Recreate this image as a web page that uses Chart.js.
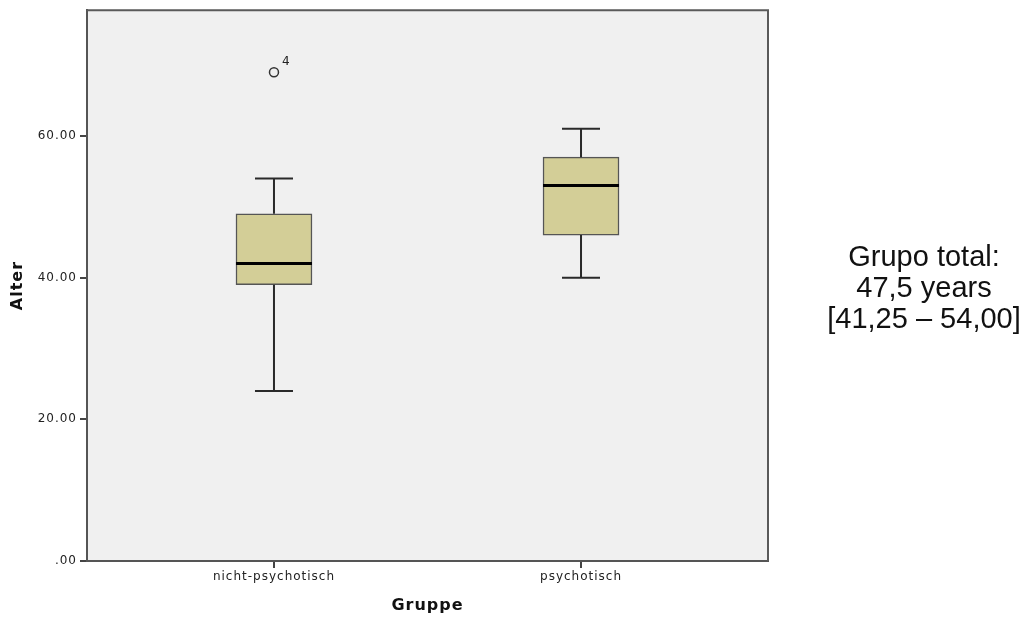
<!DOCTYPE html>
<html>
<head>
<meta charset="utf-8">
<script src="https://cdn.jsdelivr.net/npm/chart.js@4/dist/chart.umd.min.js"></script>
<style>
  html, body { margin: 0; padding: 0; background: #ffffff; }
  #wrap { position: relative; width: 1027px; height: 619px; }
  #c { position: absolute; left: 0; top: 0; }
  #note {
    position: absolute; left: 774px; top: 241px; width: 300px;
    text-align: center; font-family: "Liberation Sans", Arial, sans-serif;
    font-size: 29px; line-height: 31px; color: #111111;
  }
</style>
</head>
<body>
<div id="wrap">
  <canvas id="c" width="1027" height="619"></canvas>
  <div id="note">Grupo total:<br>47,5 years<br>[41,25 – 54,00]</div>
</div>
<script>
// Age by group (box plot summary per group)
const categories = ['nicht-psychotisch', 'psychotisch'];
const whiskerLow = [24, 40];
const q1 = [39, 46];
const median = [42, 53];
const q3 = [49, 57];
const whiskerHigh = [54, 61];

// Outliers: group index, value, case label
const outlierGroup = [0];
const outlierValue = [69];
const outlierLabel = ['4'];

const yTickValues = [0, 20, 40, 60];
const yTickLabels = ['.00', '20.00', '40.00', '60.00'];

const boxData = categories.map((c, i) => ({ x: i + 1, y: [q1[i], q3[i]] }));
const outlierData = outlierGroup.map((g, i) => ({ x: g + 1, y: outlierValue[i] }));

const TICK_FONT = { family: 'DejaVu Sans', size: 12 };
const TITLE_FONT = { family: 'DejaVu Sans', size: 16, weight: 'bold' };

const boxPlotPlugin = {
  id: 'boxPlotPlugin',
  beforeDraw(chart) {
    const { ctx, chartArea: a } = chart;
    ctx.letterSpacing = '1px';
    ctx.save();
    ctx.fillStyle = '#f0f0f0';
    ctx.fillRect(a.left, a.top, a.right - a.left, a.bottom - a.top);
    ctx.restore();
  },
  afterDatasetsDraw(chart) {
    const { ctx, scales: { x, y } } = chart;
    const capHalf = 19, boxHalf = 38;
    ctx.save();
    categories.forEach((c, i) => {
      const cx = x.getPixelForValue(i + 1);
      // whiskers
      ctx.strokeStyle = '#2a2a2a';
      ctx.lineWidth = 2;
      ctx.beginPath();
      ctx.moveTo(cx, y.getPixelForValue(q3[i]));
      ctx.lineTo(cx, y.getPixelForValue(whiskerHigh[i]));
      ctx.moveTo(cx - capHalf, y.getPixelForValue(whiskerHigh[i]));
      ctx.lineTo(cx + capHalf, y.getPixelForValue(whiskerHigh[i]));
      ctx.moveTo(cx, y.getPixelForValue(q1[i]));
      ctx.lineTo(cx, y.getPixelForValue(whiskerLow[i]));
      ctx.moveTo(cx - capHalf, y.getPixelForValue(whiskerLow[i]));
      ctx.lineTo(cx + capHalf, y.getPixelForValue(whiskerLow[i]));
      ctx.stroke();
      // median
      ctx.strokeStyle = '#000000';
      ctx.lineWidth = 3;
      ctx.beginPath();
      const my = y.getPixelForValue(median[i]);
      ctx.moveTo(cx - boxHalf, my);
      ctx.lineTo(cx + boxHalf, my);
      ctx.stroke();
    });
    // outlier case labels
    ctx.fillStyle = '#222222';
    ctx.font = '12px "DejaVu Sans"';
    ctx.textAlign = 'left';
    ctx.textBaseline = 'middle';
    outlierGroup.forEach((g, i) => {
      const px = x.getPixelForValue(g + 1);
      const py = y.getPixelForValue(outlierValue[i]);
      ctx.fillText(outlierLabel[i], px + 8, py - 10);
    });
    ctx.restore();
  },
  afterDraw(chart) {
    const { ctx, chartArea: a } = chart;
    ctx.save();
    ctx.strokeStyle = '#5a5a5a';
    ctx.lineWidth = 2;
    ctx.beginPath();
    ctx.moveTo(a.left, a.top);
    ctx.lineTo(a.right, a.top);
    ctx.lineTo(a.right, a.bottom);
    ctx.stroke();
    ctx.restore();
  }
};

new Chart(document.getElementById('c'), {
  type: 'bar',
  data: {
    datasets: [
      {
        type: 'bar',
        data: boxData,
        backgroundColor: '#d3ce97',
        borderColor: '#555555',
        borderWidth: 1.5,
        borderSkipped: false,
        barThickness: 76,
        order: 2
      },
      {
        type: 'scatter',
        data: outlierData,
        pointStyle: 'circle',
        pointRadius: 4.5,
        pointBorderWidth: 1.5,
        borderColor: '#333333',
        backgroundColor: '#f0f0f0',
        order: 1
      }
    ]
  },
  options: {
    responsive: false,
    animation: false,
    layout: { padding: { top: 9, right: 259, left: 0, bottom: 0 } },
    plugins: { legend: { display: false }, tooltip: { enabled: false } },
    scales: {
      x: {
        type: 'linear',
        offset: false,
        min: 0.391,
        max: 2.609,
        afterBuildTicks(axis) { axis.ticks = categories.map((c, i) => ({ value: i + 1 })); },
        afterFit(axis) { axis.height = 58; },
        ticks: {
          font: TICK_FONT, color: '#222222', padding: 2, maxRotation: 0, autoSkip: false,
          callback: (v) => categories[Math.round(v) - 1]
        },
        grid: { offset: false, drawOnChartArea: false, drawTicks: true, tickLength: 7, color: '#444444', lineWidth: 2 },
        border: { display: true, color: '#555555', width: 2 },
        title: { display: true, text: 'Gruppe', font: TITLE_FONT, color: '#111111', padding: { top: 0, bottom: 4 } }
      },
      y: {
        type: 'linear',
        min: 0,
        max: 77.75,
        afterBuildTicks(axis) { axis.ticks = yTickValues.map(v => ({ value: v })); },
        afterFit(axis) { axis.width = 87; },
        ticks: {
          font: TICK_FONT, color: '#222222', padding: 3,
          callback: (v) => yTickLabels[yTickValues.indexOf(v)]
        },
        grid: { drawOnChartArea: false, drawTicks: true, tickLength: 7, color: '#444444', lineWidth: 2 },
        border: { display: true, color: '#555555', width: 2 },
        title: { display: true, text: 'Alter', font: TITLE_FONT, color: '#111111', padding: { top: 8, bottom: 0 } }
      }
    }
  },
  plugins: [boxPlotPlugin]
});
</script>
</body>
</html>
